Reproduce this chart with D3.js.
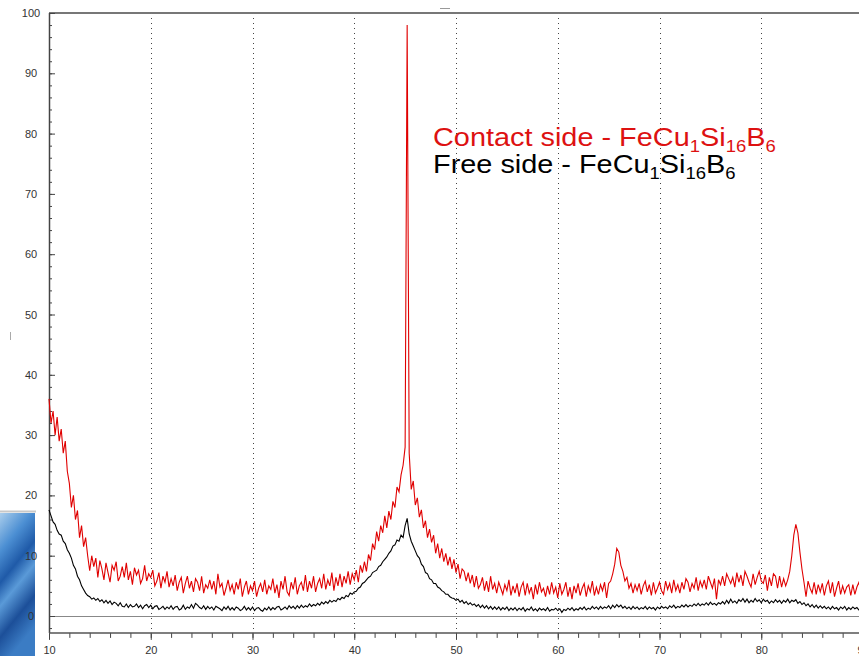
<!DOCTYPE html>
<html>
<head>
<meta charset="utf-8">
<script src="https://cdn.jsdelivr.net/npm/d3@7"></script>
<style>
  body { margin: 0; background: #fff; }
  svg { display: block; }
</style>
</head>
<body>
<div id="my_dataviz"></div>
<script>

// 2-theta sampling grid of the scans (deg)
var thetaStart = 10, thetaStep = 0.2;

// contact side intensity (10.0 ... 90.0, every 0.2)
var contactSide = [
  36, 32, 34, 30, 33, 29, 31, 27, 29, 24,
  22, 18, 20, 16, 17.5, 13, 15, 11.5, 13, 10,
  7.5, 10, 8.2, 9.6, 6.4, 9.2, 7.8, 6, 8.8, 7.2,
  5.6, 8.4, 7.6, 9, 5.8, 6.6, 8.2, 6.4, 8.8, 6,
  7.4, 5.2, 8, 6.8, 7.6, 5.4, 6.2, 8.4, 5.8, 7,
  6.4, 7.6, 5, 5.8, 7.2, 4.6, 6.6, 5.6, 7.4, 4.8,
  6.2, 5, 6.8, 4.2, 5.6, 6.4, 3.8, 5.4, 6.6, 4.6,
  5.8, 4, 6.2, 5.6, 4.2, 6.6, 3.8, 5.2, 4.6, 6,
  4.4, 5.8, 3.6, 7, 4.8, 5.4, 3.4, 4.6, 6, 4.2,
  5.2, 3.6, 5.6, 4.4, 6.2, 3.2, 4.8, 5.8, 3.6, 5,
  4.2, 5.8, 3.2, 4.6, 5.4, 4, 6, 3.6, 5, 4.4,
  6.2, 3.8, 5.2, 3, 5.8, 4.4, 6.6, 4, 3.4, 5.6,
  4.4, 6.4, 3.6, 5, 5.6, 4.2, 6.8, 4, 5.8, 4.6,
  6.6, 4, 5.4, 6.2, 4.6, 7, 4.4, 6, 5, 7.2,
  4.2, 6.4, 5, 7, 4.8, 6.6, 5.4, 7.4, 5.2, 7,
  6, 7.6, 5.6, 8.4, 7.2, 9, 7.4, 10.2, 9.2, 12,
  11, 14, 12.4, 15, 13.8, 16.6, 14.6, 17.4, 16, 19,
  18, 21.4, 20.6, 23.4, 25, 28, 98, 27, 21, 22.4,
  18.4, 19.6, 16.4, 17.6, 14.6, 15.8, 13, 14.4, 12.2, 13.4,
  10.4, 12, 9.6, 11.2, 9, 10.4, 8.4, 9.8, 7.8, 9.4,
  7.2, 8.6, 6.2, 7.8, 7.4, 5.8, 7.2, 5.4, 6.8, 4.8,
  6.6, 4.6, 5.2, 6.4, 4.2, 5.8, 4, 6.6, 4.4, 5.4,
  3.8, 5.6, 4.6, 3.6, 5.2, 4.2, 6, 3.4, 5, 3.8,
  5.4, 3.2, 4.8, 5.6, 3.4, 5.4, 3.8, 4.8, 2.8, 5.2,
  3.6, 5.6, 4, 4.6, 3.2, 5, 3.6, 5.6, 3.8, 4.8,
  3, 5.4, 3.6, 4.4, 5.6, 3.2, 4.8, 2.8, 5, 3.8,
  5.4, 3.4, 4.6, 5.4, 3.2, 5, 4, 5.8, 3.4, 4.8,
  3.6, 5.2, 4.2, 5.6, 3, 5.4, 5.8, 7, 8.6, 11.2,
  10.6, 8.4, 7.4, 5.8, 6.4, 4.6, 5.4, 3.8, 5.2, 4.2,
  5.4, 3.6, 5, 5.8, 4, 5.2, 3.4, 5.6, 3.8, 4.6,
  5.6, 4.2, 3.6, 5.8, 4.4, 5.4, 3.8, 6, 4.2, 5.2,
  3.8, 5.6, 4.4, 6.2, 5.6, 4, 5.4, 4.6, 6.4, 4.2,
  5.8, 4.8, 6, 4.4, 6.6, 5.6, 4.6, 6.2, 2.8, 6,
  5.2, 6.6, 5, 7, 6.2, 5.4, 6.4, 4.8, 7.2, 5.6,
  6.8, 5, 7.4, 6.6, 5.6, 4.8, 7, 5.2, 6.4, 7.4,
  5.8, 5.4, 6.8, 4.2, 6.4, 5, 7, 6.6, 4.6, 6.6,
  4.8, 6.2, 5, 6, 7.4, 10, 13.4, 15.2, 13.8, 10.6,
  7.8, 5.6, 3.2, 5.8, 4.6, 3.8, 5.6, 3.6, 5.2, 4,
  5.4, 3.4, 5, 5.8, 3.8, 5.6, 3.2, 4.6, 5.8, 3.6,
  5, 3.8, 4.8, 5.2, 3.4, 5.2, 3.6, 4.8, 5.6, 3.8,
  4.6
];

// free side intensity, same grid
var freeSide = [
  17.6, 16.6, 15.6, 15.2, 14.2, 13.6, 13.4, 12.4, 12, 11,
  10.4, 9.6, 8.4, 7.8, 6.6, 6, 5, 4.4, 3.8, 3.4,
  3.2, 2.8, 3, 2.6, 2.9, 2.4, 2.7, 2.2, 2.6, 2.1,
  2.5, 1.9, 2.3, 2.1, 1.7, 2.2, 1.6, 1.5, 2, 1.4,
  1.9, 1.5, 1.6, 2, 1.4, 1.8, 1.2, 1.7, 1.9, 1.4,
  1.8, 1.2, 1.6, 1.7, 1.1, 1.3, 1.6, 1.1, 1.5, 1.2,
  1.7, 1.1, 1.5, 1.6, 1, 1.2, 1.8, 1.1, 1.5, 1.3,
  1.9, 1.3, 2.1, 1.8, 1.4, 1.2, 1.7, 1.1, 1.6, 1.2,
  1.5, 1, 1.6, 1.4, 1.2, 0.9, 1.5, 1.1, 1.6, 1,
  1.4, 1, 1.5, 1.3, 0.9, 1.1, 1.6, 1, 1.4, 1,
  1.5, 0.9, 1.3, 1.4, 1, 0.8, 1.3, 1, 1.5, 1,
  1.4, 1.1, 1.5, 1.6, 1, 1.2, 1.5, 1.1, 1.7, 1.3,
  1.6, 1.2, 1.7, 1.3, 1.8, 1.4, 1.7, 1.5, 2, 1.6,
  1.9, 1.7, 2.1, 1.8, 2.3, 2, 2.4, 2.1, 2.6, 2.3,
  2.6, 2.4, 2.9, 2.7, 3.1, 2.9, 3.4, 3.2, 3.8, 3.6,
  4, 4.1, 4.6, 4.8, 5.4, 5.6, 6, 6.4, 6.6, 7.2,
  7.4, 7.6, 8.2, 8.4, 9, 9.4, 9.8, 10.4, 10.8, 11.6,
  11.8, 12.6, 12.4, 13.4, 13, 15, 16.2, 13.6, 12.4, 11.6,
  10.8, 10, 9.6, 8.6, 8.2, 7.2, 7, 6.2, 6, 5.4,
  5.4, 4.8, 4.6, 4.2, 4, 3.6, 3.6, 3.2, 3, 2.9,
  2.6, 2.8, 2.3, 2.6, 2.1, 2.4, 1.9, 2.2, 1.8, 2,
  1.6, 1.9, 1.4, 1.8, 1.3, 1.7, 1.2, 1.6, 1.1, 1.5,
  1.1, 1.5, 1, 1.4, 1.1, 1.5, 0.9, 1.3, 1, 1.4,
  0.9, 1.3, 1, 1.4, 0.8, 1.2, 1, 1.5, 0.9, 1.2,
  0.8, 1.3, 1, 1.2, 0.9, 1.4, 0.8, 1.1, 1, 1.3,
  0.9, 1.2, 0.6, 1.1, 0.9, 1.3, 1, 1.4, 0.9, 1.2,
  1, 1.4, 1.1, 1.5, 1, 1.3, 1.1, 1.6, 1.2, 1.5,
  1.1, 1.6, 1.2, 1.5, 1.3, 1.7, 1.2, 1.8, 1.4, 1.9,
  1.5, 1.8, 1.3, 1.6, 1.2, 1.5, 1.1, 1.6, 1.2, 1.5,
  1.1, 1.4, 1.2, 1.6, 1.1, 1.5, 1.2, 1.4, 1, 1.5,
  1.2, 1.6, 1.3, 1.5, 1.2, 1.7, 1.4, 1.8, 1.3, 1.6,
  1.4, 1.8, 1.5, 1.9, 1.5, 1.8, 1.6, 2, 1.7, 2.1,
  1.7, 2, 1.8, 2.2, 1.8, 2.3, 1.9, 2.1, 1.8, 2.2,
  2, 2.4, 2, 2.6, 2.1, 2.8, 2.2, 2.5, 2.1, 2.7,
  2.4, 2.9, 2.3, 2.8, 2.2, 2.6, 2.3, 2.9, 2.4, 2.7,
  2.2, 2.8, 2.4, 2.6, 2.1, 2.5, 2.2, 2.7, 2.3, 2.6,
  2.1, 2.6, 2.3, 2.8, 2.2, 2.6, 2.4, 2.7, 2.1, 2.4,
  1.9, 2.2, 1.7, 2, 1.5, 1.9, 1.4, 1.8, 1.3, 1.7,
  1.3, 1.6, 1.2, 1.5, 1.1, 1.6, 1.2, 1.4, 1, 1.5,
  1.2, 1.6, 1, 1.4, 1.1, 1.5, 1.2, 1.4, 1, 1.3,
  1.2
];

// axis ticks
var xMajorTicks = [10, 20, 30, 40, 50, 60, 70, 80, 90];
var yMajorTicks = [0, 10, 20, 30, 40, 50, 60, 70, 80, 90, 100];

var width = 859, height = 656;

var svg = d3.select("#my_dataviz")
  .append("svg")
    .attr("width", width)
    .attr("height", height);

// bits of the slide behind the chart (bottom left)
var defs = svg.append("defs");
var grad = defs.append("linearGradient")
    .attr("id", "slideBlue")
    .attr("x1", 0).attr("y1", 0).attr("x2", 0.3).attr("y2", 1);
grad.append("stop").attr("offset", "0%").attr("stop-color", "#a9cdec");
grad.append("stop").attr("offset", "25%").attr("stop-color", "#4c8fd3");
grad.append("stop").attr("offset", "45%").attr("stop-color", "#1f5aa8");
grad.append("stop").attr("offset", "60%").attr("stop-color", "#5a9ad8");
grad.append("stop").attr("offset", "80%").attr("stop-color", "#1c4f99");
grad.append("stop").attr("offset", "100%").attr("stop-color", "#3b7cc4");

svg.append("line")
    .attr("x1", 0).attr("x2", 36).attr("y1", 511.5).attr("y2", 511.5)
    .attr("stroke", "#c8c8c8").attr("stroke-width", 2);
svg.append("rect")
    .attr("x", 0).attr("y", 513).attr("width", 35).attr("height", 143)
    .attr("fill", "url(#slideBlue)");

// scales
var x = d3.scaleLinear()
  .domain([10, 90])
  .range([49, 863]);

var y = d3.scaleLinear()
  .domain([0, 100])
  .range([616, 13]);

var yBottom = y(-2.8);

// dotted vertical grid
svg.append("g")
  .selectAll("line")
  .data(xMajorTicks.slice(1))
  .enter()
  .append("line")
    .attr("x1", function(d) { return Math.round(x(d)) + 0.5; })
    .attr("x2", function(d) { return Math.round(x(d)) + 0.5; })
    .attr("y1", y(100))
    .attr("y2", yBottom)
    .attr("stroke", "#444")
    .attr("stroke-width", 1)
    .attr("stroke-dasharray", "1,4");

// top frame line
svg.append("line")
    .attr("x1", 49).attr("x2", width)
    .attr("y1", y(100)).attr("y2", y(100))
    .attr("stroke", "#777").attr("stroke-width", 2);

// zero line
svg.append("line")
    .attr("x1", 49).attr("x2", width)
    .attr("y1", y(0) + 0.5).attr("y2", y(0) + 0.5)
    .attr("stroke", "#888").attr("stroke-width", 1);

// Y axis: minor + major ticks pointing into the plot
svg.append("g")
    .attr("transform", "translate(49,0)")
    .call(d3.axisRight(y).tickValues(d3.range(-2, 101, 2)).tickSize(3).tickFormat(""))
    .call(function(g) { g.select(".domain").remove(); })
    .selectAll("line").attr("stroke", "#444");

var yAxisG = svg.append("g")
    .attr("transform", "translate(49,0)")
    .call(d3.axisRight(y).tickValues(yMajorTicks).tickSize(6).tickSizeOuter(0));
yAxisG.select(".domain").remove();
yAxisG.selectAll("line").attr("stroke", "#444");
yAxisG.selectAll("text")
    .attr("x", -18)
    .attr("text-anchor", "middle")
    .attr("fill", "#333")
    .style("font-family", "'Liberation Sans', Arial, sans-serif")
    .style("font-size", "11px");

svg.append("line")
    .attr("x1", 49.5).attr("x2", 49.5)
    .attr("y1", y(100)).attr("y2", yBottom)
    .attr("stroke", "#444").attr("stroke-width", 1.5);

// X axis: ticks hang below
svg.append("g")
    .attr("transform", "translate(0," + yBottom + ")")
    .call(d3.axisBottom(x).tickValues(d3.range(12, 91, 2)).tickSize(5).tickFormat(""))
    .call(function(g) { g.select(".domain").remove(); })
    .selectAll("line").attr("stroke", "#444");

var xAxisG = svg.append("g")
    .attr("transform", "translate(0," + yBottom + ")")
    .call(d3.axisBottom(x).tickValues(xMajorTicks).tickSize(7).tickSizeOuter(0));
xAxisG.select(".domain").remove();
xAxisG.selectAll("line").attr("stroke", "#444");
xAxisG.selectAll("text")
    .attr("y", 13)
    .attr("fill", "#333")
    .style("font-family", "'Liberation Sans', Arial, sans-serif")
    .style("font-size", "11px");

svg.append("line")
    .attr("x1", 49).attr("x2", width)
    .attr("y1", yBottom).attr("y2", yBottom)
    .attr("stroke", "#555").attr("stroke-width", 1.5);

// the two scans
var line = d3.line()
  .x(function(d, i) { return x(thetaStart + i * thetaStep); })
  .y(function(d) { return y(d); });

svg.append("path")
    .datum(freeSide)
    .attr("fill", "none")
    .attr("stroke", "#000")
    .attr("stroke-width", 1.1)
    .attr("d", line);

svg.append("path")
    .datum(contactSide)
    .attr("fill", "none")
    .attr("stroke", "#e00000")
    .attr("stroke-width", 1.1)
    .attr("d", line);

// legend written in the plot (the slide stretched it sideways)
var legend = [
  {label: "Contact side - ", color: "#dd1111", yPos: 146},
  {label: "Free side - ", color: "#000", yPos: 173}
];

legend.forEach(function(l) {
  var t = svg.append("text")
      .attr("transform", "translate(433," + l.yPos + ") scale(1.155,1)")
      .attr("fill", l.color)
      .style("font-family", "'Liberation Sans', Arial, sans-serif")
      .style("font-size", "25px");
  t.append("tspan").text(l.label + "FeCu");
  t.append("tspan").attr("dy", 6).style("font-size", "16px").text("1");
  t.append("tspan").attr("dy", -6).text("Si");
  t.append("tspan").attr("dy", 6).style("font-size", "16px").text("16");
  t.append("tspan").attr("dy", -6).text("B");
  t.append("tspan").attr("dy", 6).style("font-size", "16px").text("6");
});

// stray marks from the slide
svg.append("line")
    .attr("x1", 440).attr("x2", 450).attr("y1", 8.5).attr("y2", 8.5)
    .attr("stroke", "#999");
svg.append("line")
    .attr("x1", 10.5).attr("x2", 10.5).attr("y1", 332).attr("y2", 340)
    .attr("stroke", "#aaa");

</script>
</body>
</html>
